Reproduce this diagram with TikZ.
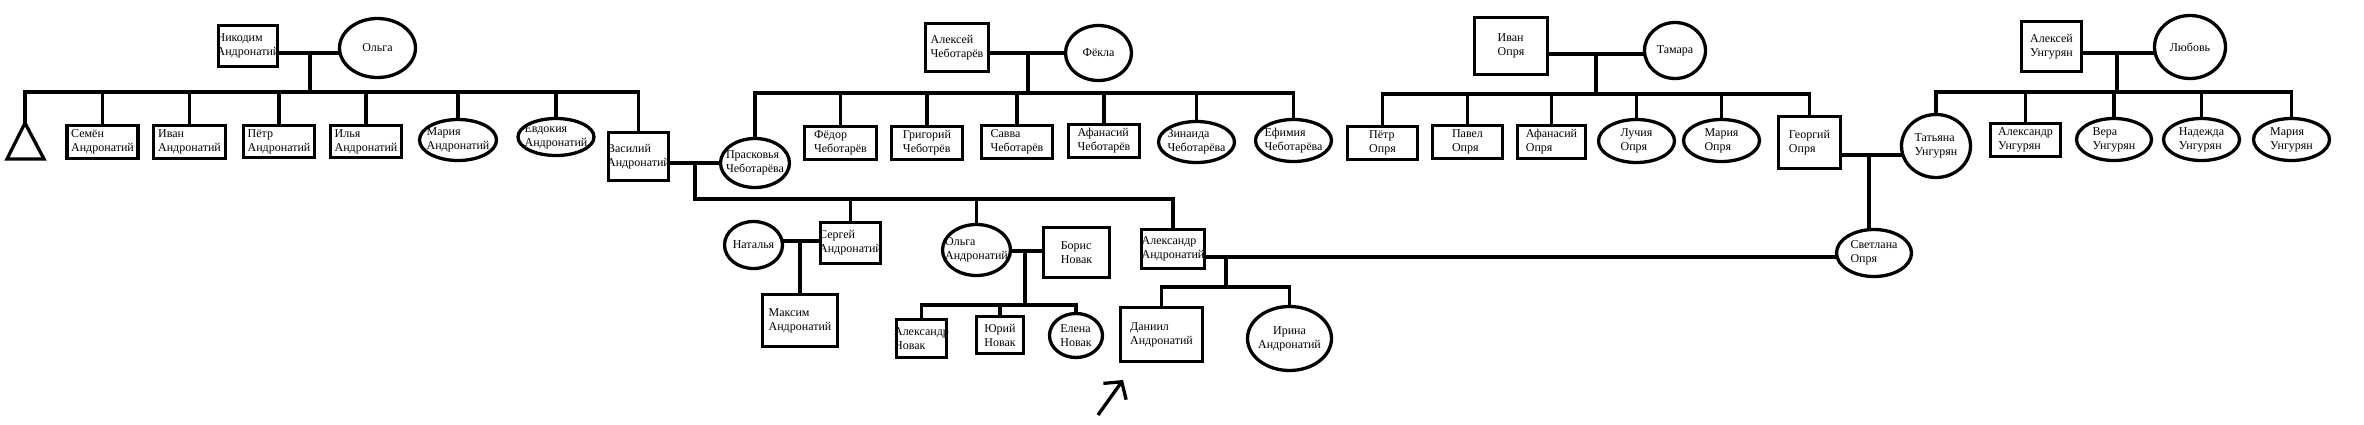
\documentclass[tikz,border=0pt]{standalone}
\usepackage{fontspec}
\setmainfont{Liberation Serif}
\usetikzlibrary{arrows.meta,shapes.geometric}
\tikzset{
  manbox/.style={draw, line width=3.3pt, rectangle, align=left, inner xsep=-3pt, inner ysep=0pt, minimum width=71pt, minimum height=33pt, font=\fontsize{12}{14}\selectfont},
  womanoval/.style={draw, line width=3.3pt, ellipse, align=left, inner xsep=-8pt, inner ysep=-2pt, minimum width=76pt, minimum height=42pt, font=\fontsize{12}{14}\selectfont},
  link/.style={line width=3.3pt, line cap=rect}
}

\begin{document}
\begin{tikzpicture}[x=1pt, y=-1pt]
\useasboundingbox (0,0) rectangle (2364,424);
% grandparents
\node[manbox, minimum width=59pt, minimum height=41pt] (nikodim) at (248,46) {Никодим\\Андронатий};
\node[womanoval, minimum width=76pt, minimum height=59pt] (olga) at (377.5,48) {Ольга};
\node[manbox, minimum width=63pt, minimum height=48pt] (alexeyC) at (957,47.5) {Алексей\\Чеботарёв};
\node[womanoval, minimum width=66pt, minimum height=55pt] (fyokla) at (1098.5,53) {Фёкла};
\node[manbox, minimum width=73pt, minimum height=57pt] (ivanO) at (1511,46) {Иван\\Опря};
\node[womanoval, minimum width=61pt, minimum height=56pt] (tamara) at (1675,50.5) {Тамара};
\node[manbox, minimum width=60pt, minimum height=50pt] (alexeyU) at (2051.5,46.5) {Алексей\\Унгурян};
\node[womanoval, minimum width=71pt, minimum height=63pt] (lyubov) at (2190,47) {Любовь};

% their children
\coordinate (unknown) at (25,123);
\draw[link, line cap=butt] (unknown) -- ++(-18,36) -- ++(37,0) -- cycle;
\node[manbox] (semyon) at (102.5,142) {Семён\\Андронатий};
\node[manbox, minimum width=72pt] (ivan) at (189.5,142) {Иван\\Андронатий};
\node[manbox, minimum height=32pt] (pyotr) at (279,141.5) {Пётр\\Андронатий};
\node[manbox, minimum height=32pt] (ilya) at (366,141.5) {Илья\\Андронатий};
\node[womanoval, minimum width=77pt, minimum height=41pt] (mariya) at (458,140) {Мария\\Андронатий};
\node[womanoval, minimum height=37pt] (evdokiya) at (556,137) {Евдокия\\Андронатий};
\node[manbox, minimum width=60pt, minimum height=48pt] (vasiliy) at (638.5,156.5) {Василий\\Андронатий};
\node[womanoval, minimum width=69pt, minimum height=49pt] (praskovya) at (755,163) {Прасковья\\Чеботарёва};

\node[manbox, minimum width=72pt] (fyodor) at (840.5,143) {Фёдор\\Чеботарёв};
\node[manbox] (grigoriy) at (927,143) {Григорий\\Чеботрёв};
\node[manbox] (savva) at (1017,142) {Савва\\Чеботарёв};
\node[manbox] (afanasiyC) at (1104,141) {Афанасий\\Чеботарёв};
\node[womanoval, minimum height=41pt] (zinaida) at (1196.5,142) {Зинаида\\Чеботарёва};
\node[womanoval] (efimiya) at (1293.5,140.5) {Ефимия\\Чеботарёва};

\node[manbox, minimum width=70pt] (pyotrO) at (1382.5,143) {Пётр\\Опря};
\node[manbox, minimum width=70pt] (pavel) at (1467.5,142) {Павел\\Опря};
\node[manbox, minimum width=68pt] (afanasiyO) at (1551.5,142) {Афанасий\\Опря};
\node[womanoval, minimum height=43pt] (luchiya) at (1636.5,141) {Лучия\\Опря};
\node[womanoval] (mariyaO) at (1721.5,140.5) {Мария\\Опря};
\node[manbox, minimum width=62pt, minimum height=52pt] (georgiy) at (1809.5,142.5) {Георгий\\Опря};

\node[womanoval, minimum width=69pt, minimum height=63pt] (tatyana) at (1936,146) {Татьяна\\Унгурян};
\node[manbox, minimum width=70pt] (alexandrU) at (2025.5,140) {Александр\\Унгурян};
\node[womanoval, minimum width=75pt] (vera) at (2114,139.5) {Вера\\Унгурян};
\node[womanoval] (nadezhda) at (2201.5,139.5) {Надежда\\Унгурян};
\node[womanoval] (mariyaU) at (2291.5,139.5) {Мария\\Унгурян};

% grandchildren
\node[womanoval, minimum width=58pt, minimum height=47pt] (natalya) at (753.5,245) {Наталья};
\node[manbox, minimum width=60pt, minimum height=41pt] (sergey) at (850.5,243) {Сергей\\Андронатий};
\node[womanoval, minimum width=68pt, minimum height=51pt] (olgaA) at (976.5,250) {Ольга\\Андронатий};
\node[manbox, minimum width=66pt, minimum height=50pt] (boris) at (1076.5,252.5) {Борис\\Новак};
\node[manbox, minimum width=63pt, minimum height=39pt] (alexandrA) at (1173,249) {Александр\\Андронатий};
\node[womanoval, minimum width=75pt, minimum height=47pt] (svetlana) at (1874,253) {Светлана\\Опря};

\node[manbox, minimum width=75pt, minimum height=52pt] (maxim) at (800,320.5) {Максим\\Андронатий};
\node[manbox, minimum width=50pt, minimum height=38pt] (alexandrN) at (921.5,338.5) {Александр\\Новак};
\node[manbox, minimum width=47pt, minimum height=37pt] (yuriy) at (1000,335) {Юрий\\Новак};
\node[womanoval, minimum width=53pt, minimum height=44pt] (elena) at (1076,335.5) {Елена\\Новак};
\node[manbox, minimum width=82pt, minimum height=54pt] (daniil) at (1161.5,334.5) {Даниил\\Андронатий};
\node[womanoval, minimum width=84pt, minimum height=64pt, align=center] (irina) at (1289.5,338.5) {Ирина\\Андронатий};

% Андронатий
\coordinate (nk) at (310,53);
\coordinate (nkbar) at (310,92);
\draw[link] (nikodim.east |- nk) -- (olga.west |- nk);
\draw[link] (nk) -- (nkbar);
\draw[link] (unknown |- nkbar) -- (vasiliy.north |- nkbar);
\draw[link] (unknown |- nkbar) -- (unknown);
\foreach \kid in {semyon,ivan,pyotr,ilya,mariya,evdokiya,vasiliy}
  \draw[link] (\kid.north |- nkbar) -- (\kid.north);

% Чеботарёв
\coordinate (ac) at (1028,53);
\coordinate (acbar) at (1028,93);
\draw[link] (alexeyC.east |- ac) -- (fyokla.west |- ac);
\draw[link] (ac) -- (acbar);
\draw[link] (praskovya.north |- acbar) -- (efimiya.north |- acbar);
\foreach \kid in {praskovya,fyodor,grigoriy,savva,afanasiyC,zinaida,efimiya}
  \draw[link] (\kid.north |- acbar) -- (\kid.north);

% Опря
\coordinate (io) at (1596,54);
\coordinate (iobar) at (1596,94);
\draw[link] (ivanO.east |- io) -- (tamara.west |- io);
\draw[link] (io) -- (iobar);
\draw[link] (pyotrO.north |- iobar) -- (georgiy.north |- iobar);
\foreach \kid in {pyotrO,pavel,afanasiyO,luchiya,mariyaO,georgiy}
  \draw[link] (\kid.north |- iobar) -- (\kid.north);

% Унгурян
\coordinate (au) at (2117,53);
\coordinate (aubar) at (2117,92);
\draw[link] (alexeyU.east |- au) -- (lyubov.west |- au);
\draw[link] (au) -- (aubar);
\draw[link] (tatyana.north |- aubar) -- (mariyaU.north |- aubar);
\foreach \kid in {tatyana,alexandrU,vera,nadezhda,mariyaU}
  \draw[link] (\kid.north |- aubar) -- (\kid.north);

% Василий + Прасковья
\coordinate (vp) at (695,163);
\coordinate (vpbar) at (695,199);
\draw[link] (vasiliy.east |- vp) -- (praskovya.west |- vp);
\draw[link] (vp) -- (vpbar) -- (alexandrA.north |- vpbar) -- (alexandrA.north);
\foreach \kid in {sergey,olgaA}
  \draw[link] (\kid.north |- vpbar) -- (\kid.north);

% Сергей + Наталья
\coordinate (sn) at (800,241);
\draw[link] (natalya.east |- sn) -- (sergey.west |- sn);
\draw[link] (sn) -- (sn |- maxim.north);

% Ольга + Борис
\coordinate (ob) at (1025,251);
\coordinate (obbar) at (1025,305);
\draw[link] (olgaA.east |- ob) -- (boris.west |- ob);
\draw[link] (ob) -- (obbar);
\draw[link] (alexandrN.north |- obbar) -- (elena.north |- obbar);
\foreach \kid in {alexandrN,yuriy,elena}
  \draw[link] (\kid.north |- obbar) -- (\kid.north);

% Александр + Светлана
\coordinate (as) at (1226,257);
\coordinate (asbar) at (1226,287);
\draw[link] (alexandrA.east |- as) -- (svetlana.west |- as);
\draw[link] (as) -- (asbar);
\draw[link] (daniil.north |- asbar) -- (irina.north |- asbar);
\foreach \kid in {daniil,irina}
  \draw[link] (\kid.north |- asbar) -- (\kid.north);

% Георгий + Татьяна
\coordinate (gt) at (1869,155);
\draw[link] (georgiy.east |- gt) -- (tatyana.west |- gt);
\draw[link] (gt) -- (gt |- svetlana.north);

% pointer
\coordinate (pointtail) at (1098,415);
\coordinate (pointtip) at (1123,380);
\draw[link, line cap=butt, -{Straight Barb[length=12pt, width=28pt]}] (pointtail) -- (pointtip);
\end{tikzpicture}
\end{document}
